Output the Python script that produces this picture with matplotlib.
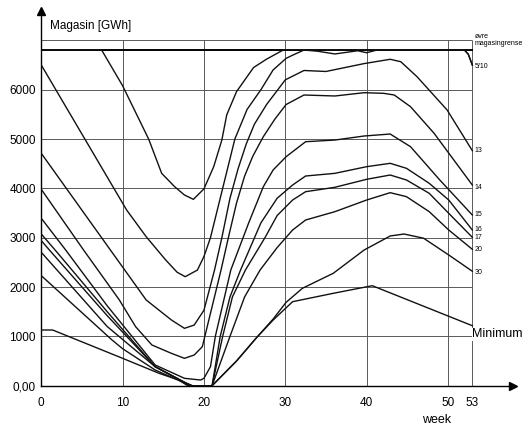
import numpy as np
import matplotlib
matplotlib.use("Agg")
import matplotlib.pyplot as plt

plt.rcParams['font.family'] = ['Liberation Sans', 'DejaVu Sans']

# reservoir curves, week -> GWh
upper_limit = 6810

wk_510a = [0, 7.4, 10, 13.2, 14.8, 16.4, 17.6, 18.7, 20, 21.2, 22.2, 22.8, 24, 26.1, 27.7, 29.8, 52, 52.5, 53]
gwh_510a = [6810, 6810, 6080, 5000, 4305, 4034, 3866, 3778, 3990, 4440, 4980, 5490, 5960, 6450, 6620, 6810, 6810, 6720, 6500]

wk_510b = [0, 10.5, 12.9, 15.3, 16.7, 17.7, 19.2, 20, 20.8, 22.3, 23.8, 25.3, 27, 28.5, 30.1, 30.9, 32.3, 34, 36.1, 38.9, 40, 41.4, 52, 52.5, 53]
gwh_510b = [6500, 3560, 3020, 2548, 2300, 2210, 2345, 2620, 3000, 4000, 5000, 5600, 6000, 6400, 6636, 6700, 6805, 6780, 6725, 6790, 6750, 6810, 6810, 6720, 6500]

wk_13 = [0, 8.5, 12.9, 16.0, 17.6, 18.8, 20, 21.3, 22.2, 23.2, 24.2, 25.2, 26.2, 27.7, 30, 32.3, 35, 39.7, 42.9, 44.2, 46.2, 49.9, 53]
gwh_13 = [4710, 2750, 1737, 1332, 1163, 1230, 1530, 2345, 3000, 3800, 4400, 4900, 5300, 5700, 6200, 6390, 6370, 6530, 6617, 6568, 6264, 5589, 4764]

wk_14 = [0, 5.2, 9.6, 11.6, 13.6, 16.0, 17.6, 18.8, 19.8, 20.6, 21.3, 22.1, 23, 24, 25, 26, 27.3, 28.7, 30.1, 32.3, 36.1, 39.7, 42.1, 43.4, 45.4, 48.3, 53]
gwh_14 = [3980, 2750, 1737, 1196, 825, 656, 555, 622, 791, 1332, 1804, 2345, 3000, 3700, 4250, 4650, 5048, 5400, 5700, 5893, 5873, 5940, 5927, 5893, 5656, 5116, 4068]

wk_15 = [0, 3.0, 8.1, 14.0, 17.6, 19.6, 20, 20.8, 21.4, 23.3, 25.5, 27.3, 28.5, 30.1, 32.5, 36.1, 39.7, 42.9, 45.4, 49.0, 53]
gwh_15 = [3393, 2750, 1620, 420, 150, 115, 150, 385, 1000, 2345, 3300, 4034, 4372, 4642, 4946, 4980, 5062, 5102, 4845, 4170, 3460]

wk_16 = [0, 1.7, 8.1, 14.0, 17.7, 18.6, 21, 22, 23.2, 24.5, 27, 29, 30.9, 32.5, 36.1, 40, 42.9, 44.9, 47.7, 50.1, 53]
gwh_16 = [3075, 2750, 1500, 385, 60, 0, 0, 1000, 1800, 2345, 3300, 3800, 4068, 4251, 4305, 4440, 4508, 4407, 4103, 3764, 3156]

wk_17 = [0, 1.0, 8.1, 14.0, 17.7, 18.5, 21, 22.3, 23.5, 25.1, 27.5, 29, 30.9, 32.5, 36.1, 40, 42.9, 44.9, 47.7, 50.1, 53]
gwh_17 = [2940, 2750, 1420, 385, 60, 0, 0, 1000, 1800, 2345, 3000, 3450, 3764, 3933, 4022, 4184, 4271, 4170, 3900, 3494, 3008]

wk_20 = [0, 8.1, 14.0, 17.7, 18.4, 21, 23.2, 25.0, 26.9, 29, 30.9, 32.5, 36.1, 40, 42.9, 44.9, 47.7, 50.1, 53]
gwh_20 = [2704, 1200, 385, 60, 0, 0, 1000, 1800, 2345, 2800, 3156, 3359, 3528, 3764, 3913, 3832, 3528, 3156, 2765]

wk_30 = [0, 8.7, 10, 14, 17.7, 18.4, 21, 24, 26.5, 28.5, 30.1, 32.1, 35.9, 39.7, 42.9, 44.6, 47, 50.1, 53]
gwh_30 = [2230, 926, 750, 318, 50, 0, 0, 500, 980, 1350, 1690, 1974, 2279, 2751, 3035, 3075, 2990, 2650, 2320]

wk_min = [0, 1.4, 10, 14.5, 16.9, 18.0, 21, 24, 26.5, 28.5, 30.9, 35.9, 40.7, 53]
gwh_min = [1129, 1129, 555, 250, 115, 0, 0, 500, 980, 1330, 1703, 1873, 2027, 1216]

curves = [(wk_510a, gwh_510a), (wk_510b, gwh_510b), (wk_13, gwh_13), (wk_14, gwh_14),
          (wk_15, gwh_15), (wk_16, gwh_16), (wk_17, gwh_17), (wk_20, gwh_20),
          (wk_30, gwh_30), (wk_min, gwh_min)]

# labels at the right end of the year
end_labels = ['5/10', '13', '14', '15', '16', '17', '20', '30']
end_label_y = [6467, 4764, 4028, 3480, 3176, 3008, 2751, 2299]

x_ticks = [0, 10, 20, 30, 40, 50, 53]
y_ticks = [0, 1000, 2000, 3000, 4000, 5000, 6000]
y_ticklabels = ['0,00', '1000', '2000', '3000', '4000', '5000', '6000']

fig = plt.figure(figsize=(5.22, 4.28), dpi=100)
ax = fig.add_axes([41.3 / 522, 42.3 / 428, 471.7 / 522, 374.9 / 428])
ax.set_xlim(0, 58)
ax.set_ylim(0, 7600)

for s in ['top', 'right']:
    ax.spines[s].set_visible(False)
for s in ['left', 'bottom']:
    ax.spines[s].set_linewidth(1.0)
# arrow heads on the axes
ax.plot(1, 0, '>k', markersize=6, transform=ax.get_yaxis_transform(), clip_on=False)
ax.plot(0, 1, '^k', markersize=6, transform=ax.get_xaxis_transform(), clip_on=False)

ax.vlines([10, 20, 30, 40, 50, 53], 0, 7000, colors='#5a5a5a', lw=0.7, zorder=1)
ax.hlines(np.arange(1000, 8000, 1000), 0, 53, colors='#5a5a5a', lw=0.7, zorder=1)
ax.plot([0, 53], [upper_limit, upper_limit], color='k', lw=1.4, zorder=2)

for wk, gwh in curves:
    ax.plot(wk, gwh, color='#111111', lw=1.0, zorder=3, solid_joinstyle='round')

ax.set_xticks(x_ticks)
ax.set_yticks(y_ticks)
ax.set_yticklabels(y_ticklabels)
ax.tick_params(axis='both', length=0, labelsize=8.5)
ax.tick_params(axis='x', pad=8)
ax.tick_params(axis='y', pad=4)

for lab, yv in zip(end_labels, end_label_y):
    ax.text(53.25, yv, lab, fontsize=5, va='center', ha='left')
ax.text(53.25, 7010, 'øvre\nmagasingrense', fontsize=5, va='center', ha='left', linespacing=1.1)
ax.text(53.0, 1040, 'Minimum', fontsize=9, va='center', ha='left',
        bbox=dict(facecolor='white', edgecolor='none', pad=0.5), zorder=4)

fig.text(50 / 522, 1 - 26 / 428, 'Magasin [GWh]', fontsize=8.5, va='center', ha='left')
fig.text(437 / 522, 1 - 420 / 428, 'week', fontsize=9, va='center', ha='center')

fig.savefig('out.png', dpi=100)
